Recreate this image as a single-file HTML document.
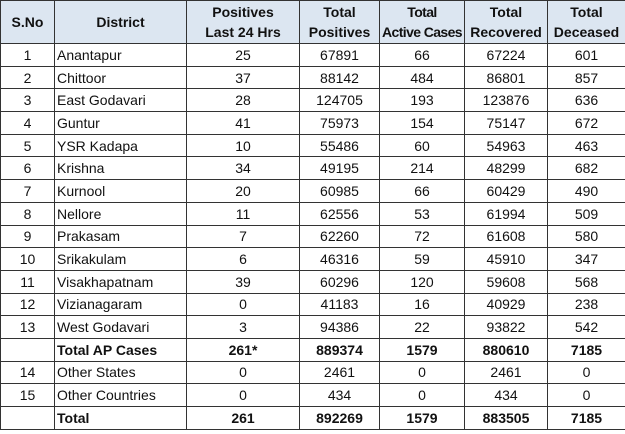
<!DOCTYPE html>
<html><head><meta charset="utf-8"><style>
html,body{margin:0;padding:0;background:#fff;}
table{position:absolute;left:0;top:0;border-collapse:collapse;table-layout:fixed;width:625px;font-family:"Liberation Sans",sans-serif;font-size:14px;color:#111;}
td,th{border:1px solid #333;padding:0;text-align:center;white-space:nowrap;overflow:hidden;}
td{height:21.7px;line-height:20px;}
th{background:#dce6f1;font-weight:bold;height:42px;line-height:20px;font-size:14px;}
th.s{letter-spacing:-0.6px;}
td.l{text-align:left;padding-left:2px;}
tr.b td{font-weight:bold;}
</style></head><body>
<table>
<colgroup><col style="width:54px"><col style="width:132px"><col style="width:113px"><col style="width:80px"><col style="width:85px"><col style="width:83px"><col style="width:78px"></colgroup>
<tr><th>S.No</th><th>District</th><th>Positives<br>Last 24 Hrs</th><th>Total<br>Positives</th><th class="s">Total<br>Active Cases</th><th>Total<br>Recovered</th><th>Total<br>Deceased</th></tr>
<tr><td>1</td><td class="l">Anantapur</td><td>25</td><td>67891</td><td>66</td><td>67224</td><td>601</td></tr>
<tr><td>2</td><td class="l">Chittoor</td><td>37</td><td>88142</td><td>484</td><td>86801</td><td>857</td></tr>
<tr><td>3</td><td class="l">East Godavari</td><td>28</td><td>124705</td><td>193</td><td>123876</td><td>636</td></tr>
<tr><td>4</td><td class="l">Guntur</td><td>41</td><td>75973</td><td>154</td><td>75147</td><td>672</td></tr>
<tr><td>5</td><td class="l">YSR Kadapa</td><td>10</td><td>55486</td><td>60</td><td>54963</td><td>463</td></tr>
<tr><td>6</td><td class="l">Krishna</td><td>34</td><td>49195</td><td>214</td><td>48299</td><td>682</td></tr>
<tr><td>7</td><td class="l">Kurnool</td><td>20</td><td>60985</td><td>66</td><td>60429</td><td>490</td></tr>
<tr><td>8</td><td class="l">Nellore</td><td>11</td><td>62556</td><td>53</td><td>61994</td><td>509</td></tr>
<tr><td>9</td><td class="l">Prakasam</td><td>7</td><td>62260</td><td>72</td><td>61608</td><td>580</td></tr>
<tr><td>10</td><td class="l">Srikakulam</td><td>6</td><td>46316</td><td>59</td><td>45910</td><td>347</td></tr>
<tr><td>11</td><td class="l">Visakhapatnam</td><td>39</td><td>60296</td><td>120</td><td>59608</td><td>568</td></tr>
<tr><td>12</td><td class="l">Vizianagaram</td><td>0</td><td>41183</td><td>16</td><td>40929</td><td>238</td></tr>
<tr><td>13</td><td class="l">West Godavari</td><td>3</td><td>94386</td><td>22</td><td>93822</td><td>542</td></tr>
<tr class="b"><td></td><td class="l">Total AP Cases</td><td>261*</td><td>889374</td><td>1579</td><td>880610</td><td>7185</td></tr>
<tr><td>14</td><td class="l">Other States</td><td>0</td><td>2461</td><td>0</td><td>2461</td><td>0</td></tr>
<tr><td>15</td><td class="l">Other Countries</td><td>0</td><td>434</td><td>0</td><td>434</td><td>0</td></tr>
<tr class="b"><td></td><td class="l">Total</td><td>261</td><td>892269</td><td>1579</td><td>883505</td><td>7185</td></tr>
</table>
</body></html>
